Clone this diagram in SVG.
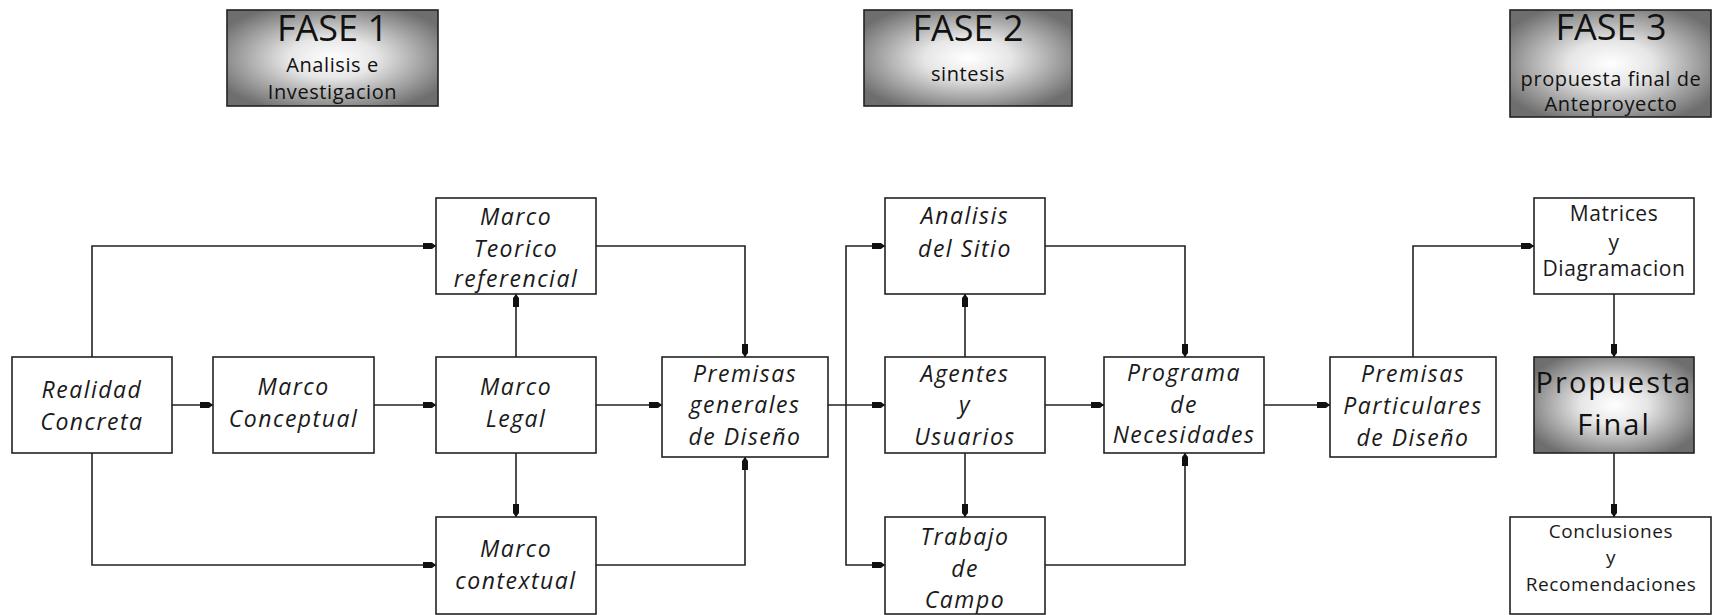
<svg xmlns="http://www.w3.org/2000/svg" width="1712" height="615" viewBox="0 0 1712 615">
<style>
.box{fill:#fff;stroke:#222;stroke-width:1.6}
.gbox{fill:url(#rg);stroke:#222;stroke-width:1.6}
.con{fill:none;stroke:#222;stroke-width:1.6;marker-end:url(#ah)}
.lbl{font-family:"Open Sans","DejaVu Sans",sans-serif;font-style:italic;font-size:23px;letter-spacing:1.5px;fill:#1a1a1a;text-anchor:middle}
.up{font-family:"Open Sans","DejaVu Sans",sans-serif;font-size:21px;letter-spacing:0.6px;fill:#1a1a1a;text-anchor:middle}
.up2{font-family:"Open Sans","DejaVu Sans",sans-serif;font-size:19px;letter-spacing:0.6px;fill:#1a1a1a;text-anchor:middle}
.t1{font-family:"Open Sans","DejaVu Sans",sans-serif;font-size:36px;fill:#111;text-anchor:middle}
.t2{font-family:"Open Sans","DejaVu Sans",sans-serif;font-size:20px;letter-spacing:0.6px;fill:#111;text-anchor:middle}
.big{font-family:"Open Sans","DejaVu Sans",sans-serif;font-size:29px;letter-spacing:2px;fill:#111;text-anchor:middle}
</style>
<defs>
<radialGradient id="rg" cx="50%" cy="50%" r="60%">
<stop offset="0" stop-color="#ffffff"/>
<stop offset="0.35" stop-color="#e6e6e6"/>
<stop offset="1" stop-color="#6e6e6e"/>
</radialGradient>
<marker id="ah" viewBox="0 0 13 7" refX="13" refY="3.5" markerWidth="13" markerHeight="7" markerUnits="userSpaceOnUse" orient="auto">
<path d="M0,0.5 L9,0.5 L13,3.5 L9,6.5 L0,6.5 z" fill="#111"/>
</marker>
</defs>

<g id="connectors">
<path class="con" d="M92,357 V246 H436"/>
<path class="con" d="M172,405 H213"/>
<path class="con" d="M92,453 V565 H436"/>
<path class="con" d="M374,405 H436"/>
<path class="con" d="M516,357 V294"/>
<path class="con" d="M516,453 V517"/>
<path class="con" d="M596,405 H662"/>
<path class="con" d="M596,246 H745 V357"/>
<path class="con" d="M596,565 H745 V457"/>
<path class="con" d="M828,405 H885"/>
<path class="con" d="M846,405 V246 H885"/>
<path class="con" d="M846,405 V565 H885"/>
<path class="con" d="M965,357 V294"/>
<path class="con" d="M965,453 V517"/>
<path class="con" d="M1045,405 H1104"/>
<path class="con" d="M1045,246 H1185 V357"/>
<path class="con" d="M1045,565 H1185 V453"/>
<path class="con" d="M1264,405 H1330"/>
<path class="con" d="M1413,357 V246 H1534"/>
<path class="con" d="M1614,294 V357"/>
<path class="con" d="M1614,453 V517"/>
</g>

<g id="fase1">
<rect class="gbox" x="227" y="10" width="211" height="96"/>
<text class="t1" x="332.5" y="41">FASE 1</text>
<text class="t2" x="332.5" y="72">Analisis e</text>
<text class="t2" x="332.5" y="99">Investigacion</text>
</g>
<g id="fase2">
<rect class="gbox" x="864" y="10" width="208" height="96"/>
<text class="t1" x="968" y="41">FASE 2</text>
<text class="t2" x="968" y="81">sintesis</text>
</g>
<g id="fase3">
<rect class="gbox" x="1510" y="10" width="201" height="107"/>
<text class="t1" x="1611" y="40">FASE 3</text>
<text class="t2" x="1611" y="86">propuesta final de</text>
<text class="t2" x="1611" y="111">Anteproyecto</text>
</g>

<g id="marco-teorico">
<rect class="box" x="436" y="198" width="160" height="96"/>
<text class="lbl" x="516" y="225">Marco</text>
<text class="lbl" x="516" y="257">Teorico</text>
<text class="lbl" x="516" y="287">referencial</text>
</g>
<g id="realidad">
<rect class="box" x="12" y="357" width="160" height="96"/>
<text class="lbl" x="92" y="398">Realidad</text>
<text class="lbl" x="92" y="430">Concreta</text>
</g>
<g id="marco-conceptual">
<rect class="box" x="213" y="357" width="161" height="96"/>
<text class="lbl" x="293.5" y="395">Marco</text>
<text class="lbl" x="293.5" y="427">Conceptual</text>
</g>
<g id="marco-legal">
<rect class="box" x="436" y="357" width="160" height="96"/>
<text class="lbl" x="516" y="395">Marco</text>
<text class="lbl" x="516" y="427">Legal</text>
</g>
<g id="marco-contextual">
<rect class="box" x="436" y="517" width="160" height="97"/>
<text class="lbl" x="516" y="557">Marco</text>
<text class="lbl" x="516" y="589">contextual</text>
</g>
<g id="premisas-generales">
<rect class="box" x="662" y="357" width="166" height="100"/>
<text class="lbl" x="745" y="382">Premisas</text>
<text class="lbl" x="745" y="413">generales</text>
<text class="lbl" x="745" y="445">de Diseño</text>
</g>
<g id="analisis-sitio">
<rect class="box" x="885" y="198" width="160" height="96"/>
<text class="lbl" x="965" y="224">Analisis</text>
<text class="lbl" x="965" y="257">del Sitio</text>
</g>
<g id="agentes">
<rect class="box" x="885" y="357" width="160" height="96"/>
<text class="lbl" x="965" y="382">Agentes</text>
<text class="lbl" x="965" y="413">y</text>
<text class="lbl" x="965" y="445">Usuarios</text>
</g>
<g id="trabajo-campo">
<rect class="box" x="885" y="517" width="160" height="97"/>
<text class="lbl" x="965" y="545">Trabajo</text>
<text class="lbl" x="965" y="577">de</text>
<text class="lbl" x="965" y="608">Campo</text>
</g>
<g id="programa">
<rect class="box" x="1104" y="357" width="160" height="96"/>
<text class="lbl" x="1184" y="381">Programa</text>
<text class="lbl" x="1184" y="413">de</text>
<text class="lbl" x="1184" y="443">Necesidades</text>
</g>
<g id="premisas-particulares">
<rect class="box" x="1330" y="357" width="166" height="100"/>
<text class="lbl" x="1413" y="382">Premisas</text>
<text class="lbl" x="1413" y="414">Particulares</text>
<text class="lbl" x="1413" y="446">de Diseño</text>
</g>
<g id="matrices">
<rect class="box" x="1534" y="198" width="160" height="96"/>
<text class="up" x="1614" y="221">Matrices</text>
<text class="up" x="1614" y="250">y</text>
<text class="up" x="1614" y="276">Diagramacion</text>
</g>
<g id="propuesta-final">
<rect class="gbox" x="1534" y="357" width="160" height="96"/>
<text class="big" x="1614" y="393">Propuesta</text>
<text class="big" x="1614" y="435">Final</text>
</g>
<g id="conclusiones">
<rect class="box" x="1510" y="517" width="201" height="97"/>
<text class="up2" x="1611" y="538">Conclusiones</text>
<text class="up2" x="1611" y="564">y</text>
<text class="up2" x="1611" y="591">Recomendaciones</text>
</g>
</svg>
